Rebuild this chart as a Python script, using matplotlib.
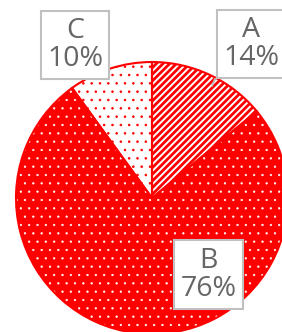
import matplotlib
matplotlib.use("Agg")
import matplotlib.pyplot as plt

categories = ["A", "B", "C"]
values = [14, 76, 10]
pct_labels = ["14%", "76%", "10%"]

face_colors = ["white", "#ff0000", "white"]
hatch_colors = ["#ff0000", "white", "#ff0000"]
hatches = ["/////", "..", ".."]
hatch_widths = [2.0, 0.4, 0.6]

W, H = 282, 332
fig = plt.figure(figsize=(W / 100, H / 100), dpi=100)
ax = fig.add_axes([0, 0, 1, 1])

cx, cy, r = 152, 198, 136

# hatched fill, one pass per wedge so each gets its own hatch line width
for i in range(len(values)):
    with plt.rc_context({"hatch.linewidth": hatch_widths[i]}):
        wedges, _ = ax.pie(values, startangle=90, counterclock=False, radius=1,
                           colors=face_colors, wedgeprops=dict(linewidth=0))
    for j, w in enumerate(wedges):
        if j != i:
            w.set_visible(False)
        else:
            w.set_edgecolor(hatch_colors[i])
            w.set_hatch(hatches[i])
            w.set_linewidth(0)
# outlines
ax.pie(values, startangle=90, counterclock=False, radius=1,
       wedgeprops=dict(fill=False, edgecolor="#ff0000", linewidth=1.5))

ax.set_xlim(-cx / r, (W - cx) / r)
ax.set_ylim(-(H - cy) / r, cy / r)
ax.set_aspect("equal")
ax.axis("off")

def px(x, y):
    return ((x - cx) / r, (cy - y) / r)

label_pos = {"A": px(251.5, 44), "B": px(208.5, 274.5), "C": px(75, 45)}

# leader line for A
lx0, ly0 = px(215, 79)
lx1, ly1 = px(212, 86)
ax.plot([lx0, lx1], [ly0, ly1], color="#c0c0c0", lw=1.3, zorder=4)

for cat, pl in zip(categories, pct_labels):
    x, y = label_pos[cat]
    ax.text(x, y, f"{cat}\n{pl}", ha="center", va="center",
            fontsize=20.5, family="Open Sans", color="#666666",
            linespacing=1.0, zorder=5,
            bbox=dict(boxstyle="square,pad=0.22", facecolor="white",
                      edgecolor="#c0c0c0", linewidth=1.5))

fig.savefig("out.png", dpi=100)
